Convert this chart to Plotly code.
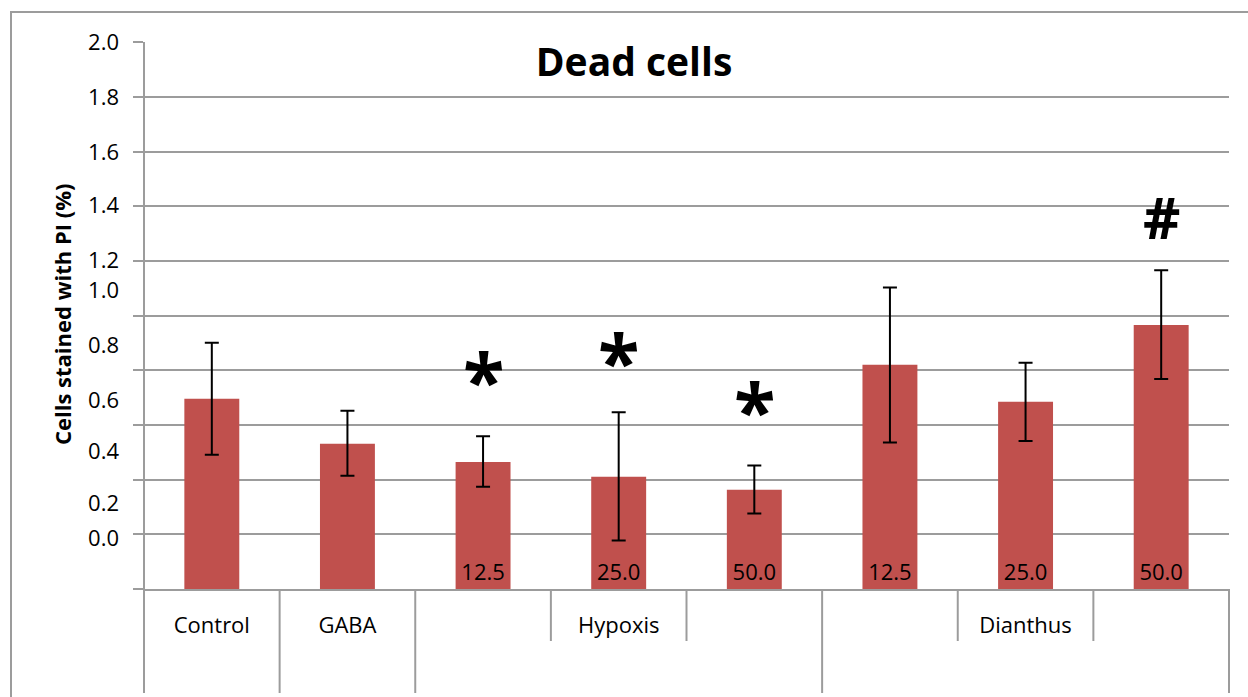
import plotly.graph_objects as go

# ---- data ----------------------------------------------------------------
groups = ["Control", "GABA", "Hypoxis", "Hypoxis", "Hypoxis",
          "Dianthus", "Dianthus", "Dianthus"]
doses = ["", "", "12.5", "25.0", "50.0", "12.5", "25.0", "50.0"]
axis_labels = ["Control", "GABA", "", "Hypoxis", "", "", "Dianthus", ""]
pi_percent = [0.696, 0.531, 0.465, 0.411, 0.363, 0.820, 0.685, 0.966]
err_plus = [0.205, 0.121, 0.094, 0.236, 0.089, 0.283, 0.143, 0.200]
err_minus = [0.205, 0.117, 0.091, 0.234, 0.087, 0.284, 0.144, 0.198]

# significance marks: (category index, symbol, height in axis units)
sig_marks = [(2, "*", 0.796), (3, "*", 0.864), (4, "*", 0.686), (7, "#", 1.347)]

# y-axis labels as printed beside the grid
y_tick_text = ["2.0", "1.8", "1.6", "1.4", "1.2", "1.0",
               "0.8", "0.6", "0.4", "0.2", "0.0"]
y_tick_pos = [2.000, 1.800, 1.599, 1.405, 1.204, 1.094,
              0.893, 0.690, 0.503, 0.312, 0.186]

# ---- layout geometry --------------------------------------------------------
W, H = 1248, 697
M_L, M_R, M_T, M_B = 144, 19, 42, 108
PLOT_W = W - M_L - M_R
PLOT_H = H - M_T - M_B
Y_MAX = 2.001


def px_x(px):
    return (px - M_L) / PLOT_W


def px_y(py):
    return (H - M_B - py) / PLOT_H


BAR = "#C0504D"
GRID = "#9c9c9c"
FONT = "Open Sans"
n = len(groups)
xs = list(range(n))

fig = go.Figure()
fig.add_trace(go.Bar(
    x=xs, y=pi_percent, width=0.405,
    marker=dict(color=BAR, line=dict(width=0)),
    error_y=dict(type="data", symmetric=False, array=err_plus,
                 arrayminus=err_minus, color="black", thickness=2, width=7),
    text=doses, textposition="inside", insidetextanchor="start",
    textangle=0, textfont=dict(family=FONT, size=22, color="black"),
    showlegend=False, hoverinfo="skip",
))
# empty trace so the label axis is laid out
fig.add_trace(go.Scatter(x=[None], y=[None], yaxis="y2", showlegend=False))

shapes = []
# chart-area frame (left and top edges visible)
shapes.append(dict(type="rect", xref="paper", yref="paper",
                   x0=px_x(11), x1=px_x(W + 20), y0=px_y(H + 20), y1=px_y(12),
                   line=dict(color=GRID, width=2), layer="below"))
# vertical value-axis line running through the category table
shapes.append(dict(type="line", xref="x domain", yref="paper",
                   x0=0, x1=0, y0=px_y(693), y1=1,
                   line=dict(color=GRID, width=2)))
# category table dividers: tall between groups, short inside a group
for k in range(1, n + 1):
    tall = k == n or groups[k - 1] != groups[k]
    shapes.append(dict(type="line", xref="x domain", yref="paper",
                       x0=k / n, x1=k / n, y0=0,
                       y1=px_y(693) if tall else px_y(641),
                       line=dict(color=GRID, width=2)))

annotations = []
for i, sym, yv in sig_marks:
    star = sym == "*"
    annotations.append(dict(x=i, y=yv, xref="x", yref="y", text=f"<b>{sym}</b>",
                            showarrow=False, xanchor="center", yanchor="middle",
                            font=dict(family=FONT, size=76 if star else 58,
                                      color="black"),
                            yshift=-7 if star else 4))
annotations.append(dict(x=px_x(62), y=px_y(314), xref="paper", yref="paper",
                        text="<b>Cells stained with PI (%)</b>", textangle=-90,
                        showarrow=False, xanchor="center", yanchor="middle",
                        font=dict(family=FONT, size=22, color="black")))

fig.update_layout(
    width=W, height=H,
    margin=dict(l=M_L, r=M_R, t=M_T, b=M_B, pad=0),
    paper_bgcolor="white", plot_bgcolor="white",
    title=dict(text="<b>Dead cells</b>", x=px_x(634), xref="paper", xanchor="center",
               y=px_y(62), yref="paper", yanchor="middle",
               font=dict(family=FONT, size=39, color="black")),
    xaxis=dict(range=[-0.5, n - 0.5], tickmode="array", tickvals=xs,
               ticktext=axis_labels, ticks="", showgrid=False, zeroline=False,
               showline=True, linecolor=GRID, linewidth=2,
               tickfont=dict(family=FONT, size=22, color="black"),
               ticklabelstandoff=16),
    yaxis=dict(range=[0, Y_MAX], tick0=0, dtick=0.2, showticklabels=False,
               ticks="outside", ticklen=10, tickwidth=2, tickcolor=GRID,
               showgrid=True, gridcolor=GRID, gridwidth=2, zeroline=False,
               showline=False),
    yaxis2=dict(range=[0, Y_MAX], overlaying="y", side="left", anchor="x",
                tickmode="array", tickvals=y_tick_pos, ticktext=y_tick_text,
                ticks="", showgrid=False, zeroline=False, showline=False,
                tickfont=dict(family=FONT, size=22, color="black"),
                ticklabelstandoff=24),
    shapes=shapes,
    annotations=annotations,
    bargap=0.6,
)

fig.write_html("out.html")
